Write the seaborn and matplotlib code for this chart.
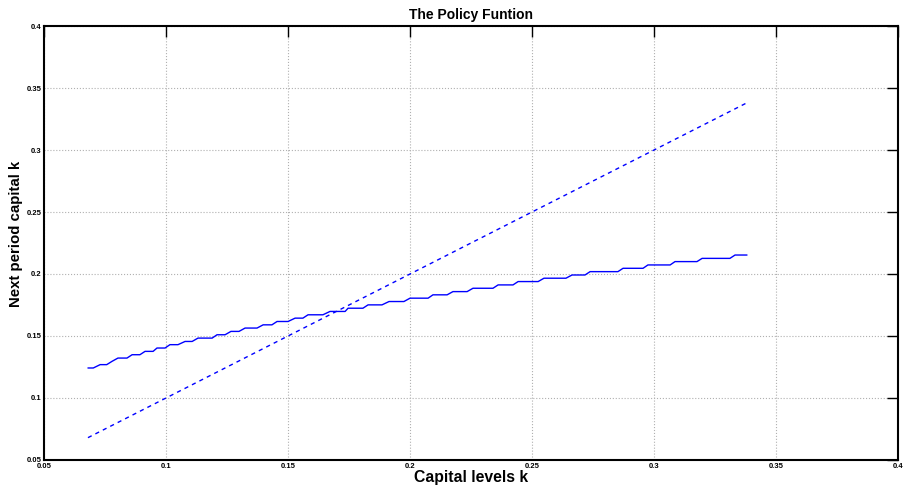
import numpy as np
import pandas as pd
import matplotlib
matplotlib.use("Agg")
import matplotlib.pyplot as plt
import seaborn as sns

# policy function: each step level and where it starts / ends
nivel = [0.1242, 0.1269, 0.1296, 0.1322, 0.1349, 0.1376, 0.1403, 0.1430,
         0.1456, 0.1483, 0.1510, 0.1537, 0.1564, 0.1590, 0.1617, 0.1644,
         0.1671, 0.1698, 0.1724, 0.1751, 0.1778, 0.1805, 0.1832, 0.1858,
         0.1885, 0.1912, 0.1939, 0.1966, 0.1992, 0.2019, 0.2046, 0.2073,
         0.2100, 0.2126, 0.2153]
k_inicio = [0.0680, 0.0730, 0.0779, 0.0803, 0.0861, 0.0914, 0.0963, 0.1016,
            0.1078, 0.1131, 0.1209, 0.1266, 0.1324, 0.1398, 0.1455, 0.1529,
            0.1582, 0.1672, 0.1746, 0.1828, 0.1914, 0.2000, 0.2094, 0.2176,
            0.2258, 0.2361, 0.2443, 0.2549, 0.2664, 0.2738, 0.2873, 0.2975,
            0.3086, 0.3197, 0.3332]
k_fin = [0.0702, 0.0757, 0.0779, 0.0840, 0.0893, 0.0947, 0.0996, 0.1049,
         0.1107, 0.1189, 0.1242, 0.1299, 0.1373, 0.1434, 0.1500, 0.1561,
         0.1643, 0.1734, 0.1807, 0.1885, 0.1975, 0.2074, 0.2152, 0.2234,
         0.2340, 0.2422, 0.2525, 0.2639, 0.2717, 0.2852, 0.2955, 0.3066,
         0.3176, 0.3311, 0.3381]

# 45 degree line
k_45 = [0.068, 0.338]

ticks = [0.05, 0.1, 0.15, 0.2, 0.25, 0.3, 0.35, 0.4]
tick_labels = ['0.05', '0.1', '0.15', '0.2', '0.25', '0.3', '0.35', '0.4']

# vertices of the policy line
kx, ky = [], []
for a, b, v in zip(k_inicio, k_fin, nivel):
    kx += [a, b]
    ky += [v, v]
df_politica = pd.DataFrame({'k': kx, 'kp': ky})
df_45 = pd.DataFrame({'k': k_45, 'kp': k_45})

sns.set_style('white')
plt.rcParams['font.family'] = ['Liberation Sans', 'DejaVu Sans']
plt.rcParams['text.color'] = 'black'
plt.rcParams['axes.labelcolor'] = 'black'

fig = plt.figure(figsize=(9.04, 4.88), dpi=100)
ax = fig.add_axes([0.0487, 0.0574, 0.9447, 0.8893])

sns.lineplot(data=df_politica, x='k', y='kp', sort=False, estimator=None,
             color='#0000ff', linewidth=1.0, ax=ax)
sns.lineplot(data=df_45, x='k', y='kp', sort=False, estimator=None,
             color='#0000ff', linewidth=1.0, ax=ax, dashes=False)
ax.lines[-1].set_dashes([3, 3])

ax.set_xlim(0.05, 0.4)
ax.set_ylim(0.05, 0.4)
ax.set_xticks(ticks)
ax.set_xticklabels(tick_labels, fontsize=5.5, fontweight='bold')
ax.set_yticks(ticks)
ax.set_yticklabels(tick_labels, fontsize=5.5, fontweight='bold')
ax.tick_params(direction='in', length=8, width=1, top=True, right=True,
               pad=2, colors='black')
ax.grid(True, linestyle=':', color='#b0b0b0', linewidth=0.8)
for s in ax.spines.values():
    s.set_color('black')
    s.set_linewidth(1.5)

ax.set_title('The Policy Funtion', fontsize=10, fontweight='bold', pad=5,
             color='black')
ax.set_xlabel('Capital levels k', fontsize=11.3, fontweight='bold', labelpad=0)
ax.set_ylabel('Next period capital k', fontsize=10.8, fontweight='bold')
ax.yaxis.set_label_coords(-0.025, 0.52)

fig.savefig('out.png', dpi=100)
